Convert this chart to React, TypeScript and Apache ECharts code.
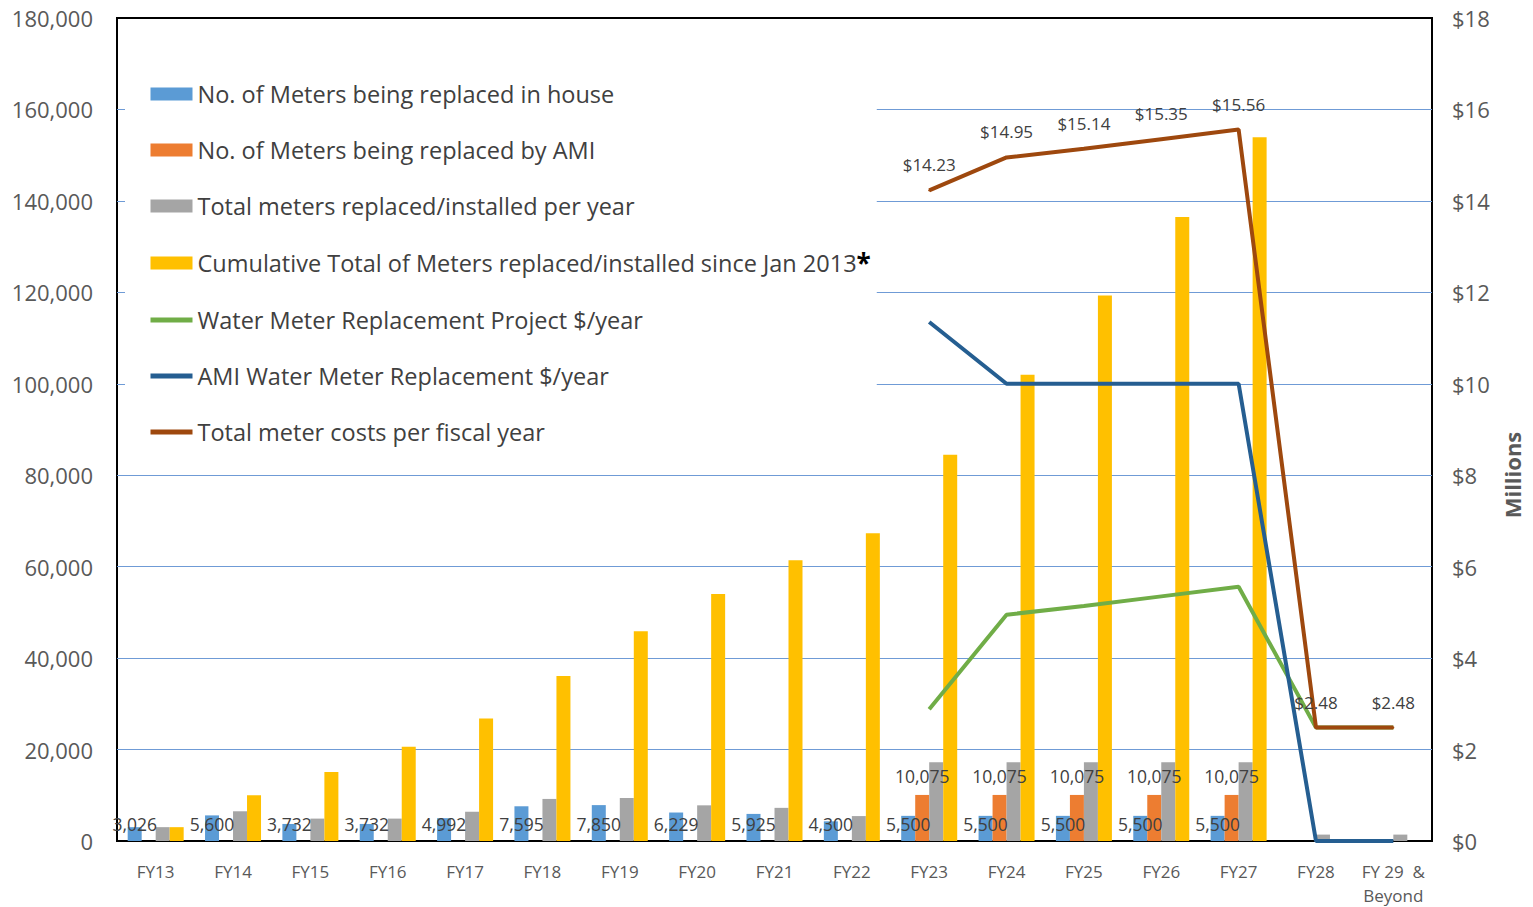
import React, { useEffect, useRef } from "react";
import * as echarts from "echarts";

const categories = [
  "FY13", "FY14", "FY15", "FY16", "FY17", "FY18", "FY19", "FY20", "FY21",
  "FY22", "FY23", "FY24", "FY25", "FY26", "FY27", "FY28", "FY 29  &\nBeyond",
];

const inHouse = [3026, 5600, 3732, 3732, 4992, 7595, 7850, 6229, 5925, 4300, 5500, 5500, 5500, 5500, 5500, null, null];
const byAMI = [null, null, null, null, null, null, null, null, null, null, 10075, 10075, 10075, 10075, 10075, null, null];
const totalPerYear = [3026, 6500, 4900, 4900, 6400, 9200, 9400, 7800, 7250, 5450, 17200, 17200, 17200, 17200, 17200, 1400, 1400];
const cumulative = [3026, 10000, 15100, 20600, 26800, 36100, 45900, 54000, 61400, 67300, 84500, 102000, 119300, 136500, 153900, null, null];

const projectCost = [null, null, null, null, null, null, null, null, null, null, 2.88, 4.95, 5.14, 5.35, 5.56, 2.48, 2.48];
const amiCost = [null, null, null, null, null, null, null, null, null, null, 11.35, 10, 10, 10, 10, 0, 0];
const totalCost = [null, null, null, null, null, null, null, null, null, null, 14.23, 14.95, 15.14, 15.35, 15.56, 2.48, 2.48];

const leftTicks = { min: 0, max: 180000, interval: 20000 };
const rightTicks = { min: 0, max: 18, interval: 2 };

const FONT = "'Open Sans', 'Noto Sans', sans-serif";
const TXT = "#404040";

const names = {
  inHouse: "No. of Meters being replaced in house",
  ami: "No. of Meters being replaced by AMI",
  total: "Total meters replaced/installed per year",
  cum: "Cumulative Total of Meters replaced/installed since Jan 2013",
  project: "Water Meter Replacement Project $/year",
  amiCost: "AMI Water Meter Replacement $/year",
  totalCost: "Total meter costs per fiscal year",
};

export default function App() {
  const ref = useRef<HTMLDivElement>(null);
  useEffect(() => {
    if (!ref.current) return;
    const chart = echarts.init(ref.current, null, { renderer: "svg" });
    const numLabel = (p: any) =>
      p.value == null || p.value === 0 ? "" : Number(p.value).toLocaleString("en-US");
    const barBase = { type: "bar", barWidth: 14, barGap: "0%" };
    const lineLegend = (name: string, color: string) => ({
      name,
      itemStyle: { opacity: 0 },
      lineStyle: { width: 5, color },
    });
    chart.setOption({
      animation: false,
      backgroundColor: "#fff",
      textStyle: { fontFamily: FONT },
      grid: {
        left: 117, right: 101, top: 18, bottom: 62,
        show: true, borderColor: "#000", borderWidth: 2, backgroundColor: "transparent",
      },
      legend: {
        orient: "vertical",
        left: 125,
        top: 69,
        padding: [13, 6, 14, 23],
        backgroundColor: "#fff",
        itemWidth: 42,
        itemHeight: 13,
        itemGap: 32,
        data: [
          { name: names.inHouse, icon: "rect" },
          { name: names.ami, icon: "rect" },
          { name: names.total, icon: "rect" },
          { name: names.cum, icon: "rect" },
          lineLegend(names.project, "#70ad47"),
          lineLegend(names.amiCost, "#255e91"),
          lineLegend(names.totalCost, "#9e480e"),
        ],
        formatter: (n: string) => (n === names.cum ? `{a|${n}}{b|*}` : n),
        textStyle: {
          fontFamily: FONT, fontSize: 23.5, color: TXT, lineHeight: 22,
          rich: {
            a: { fontFamily: FONT, fontSize: 23.5, color: TXT, lineHeight: 22 },
            b: { fontFamily: FONT, fontSize: 26, color: "#000", fontWeight: "bold", lineHeight: 22 },
          },
        },
      },
      graphic: [
        {
          type: "text",
          x: 1512,
          y: 475,
          rotation: Math.PI / 2,
          style: {
            text: "Millions", fontFamily: FONT, fontSize: 22, fontWeight: "bold",
            fill: "#595959", align: "center", verticalAlign: "middle",
          },
        },
      ],
      xAxis: {
        type: "category",
        data: categories,
        axisLine: { show: false },
        axisTick: { show: false },
        axisLabel: { fontFamily: FONT, fontSize: 17, color: "#595959", margin: 18, lineHeight: 24, interval: 0 },
      },
      yAxis: [
        {
          type: "value",
          ...leftTicks,
          axisLine: { show: false },
          axisTick: { show: false },
          splitLine: { showMinLine: false, showMaxLine: false, lineStyle: { color: "#6f9bd6", width: 1.2 } },
          axisLabel: {
            fontFamily: FONT, fontSize: 22, color: "#595959", margin: 24,
            formatter: (v: number) => v.toLocaleString("en-US"),
          },
        },
        {
          type: "value",
          ...rightTicks,
          position: "right",
          axisLine: { show: false },
          axisTick: { show: false },
          splitLine: { show: false },
          axisLabel: {
            fontFamily: FONT, fontSize: 22, color: "#595959", margin: 20,
            formatter: (v: number) => "$" + v,
          },
        },
      ],
      series: [
        {
          ...barBase, name: names.inHouse, data: inHouse,
          itemStyle: { color: "#5b9bd5" },
          label: { show: true, position: "insideBottom", distance: 8, fontSize: 17.5, color: TXT, fontFamily: FONT, formatter: numLabel },
        },
        {
          ...barBase, name: names.ami, data: byAMI,
          itemStyle: { color: "#ed7d31" },
          label: { show: true, position: "top", distance: 10, fontSize: 17.5, color: TXT, fontFamily: FONT, formatter: numLabel },
        },
        { ...barBase, name: names.total, data: totalPerYear, itemStyle: { color: "#a5a5a5" } },
        { ...barBase, name: names.cum, data: cumulative, itemStyle: { color: "#ffc000" } },
        {
          type: "line", name: names.project, yAxisIndex: 1, data: projectCost,
          symbol: "none", lineStyle: { width: 4, color: "#70ad47" }, itemStyle: { color: "#70ad47" },
        },
        {
          type: "line", name: names.amiCost, yAxisIndex: 1, data: amiCost,
          symbol: "none", lineStyle: { width: 4, color: "#255e91" }, itemStyle: { color: "#255e91" },
        },
        {
          type: "line", name: names.totalCost, yAxisIndex: 1, data: totalCost,
          symbol: "circle", symbolSize: 2, showSymbol: true,
          lineStyle: { width: 4, color: "#9e480e" }, itemStyle: { color: "#9e480e" },
          label: {
            show: true, position: "top", distance: 16, fontSize: 17, color: TXT, fontFamily: FONT,
            formatter: (p: any) => (p.value == null ? "" : "$" + Number(p.value).toFixed(2)),
          },
        },
      ],
    });
    return () => chart.dispose();
  }, []);
  return (
    <div
      ref={ref}
      style={{ position: "fixed", left: 0, top: 0, width: 1533, height: 907, background: "#fff" }}
    />
  );
}
